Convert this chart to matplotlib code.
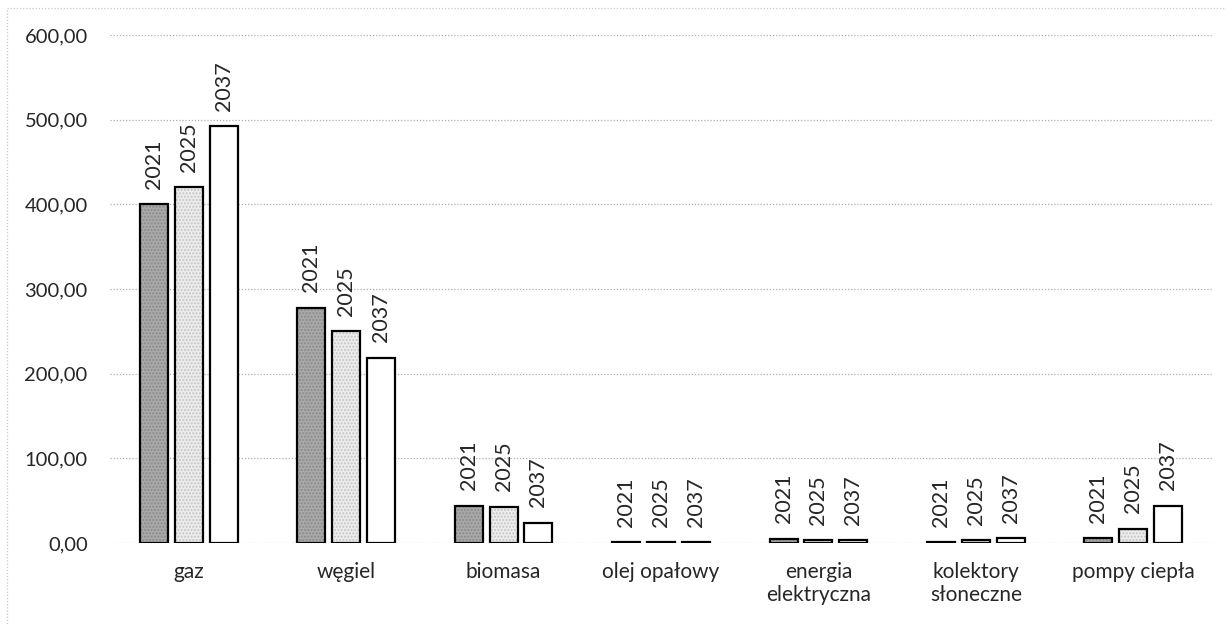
import matplotlib
matplotlib.use("Agg")
import matplotlib.pyplot as plt
from matplotlib.patches import Rectangle
import numpy as np

plt.rcParams['font.family'] = ['Lato', 'DejaVu Sans']

categories = ["gaz", "węgiel", "biomasa", "olej opałowy", "energia\nelektryczna",
              "kolektory\nsłoneczne", "pompy ciepła"]
series_names = ["2021", "2025", "2037"]
v2021 = [400, 278, 44, 1, 5, 1, 6]
v2025 = [420, 250, 43, 1, 3, 3, 17]
v2037 = [492, 219, 24, 1, 3, 6, 44]
yticks = [0, 100, 200, 300, 400, 500, 600]

series = [v2021, v2025, v2037]
faces = ["#a9a9a9", "#ededed", "#ffffff"]
dots = ["#8a8a8a", "#c4c4c4", None]

fig = plt.figure(figsize=(12.26, 6.25), dpi=100)
ax = fig.add_axes([0.0897, 0.1312, 0.8989, 0.8128])

x = np.arange(len(categories))
step = 0.2215
width = 0.178
for j, vals in enumerate(series):
    pos = x + (j - 1) * step
    if dots[j] is not None:
        ax.bar(pos, vals, width=width, color=faces[j], edgecolor=dots[j],
               hatch='.....', linewidth=0, zorder=2)
    else:
        ax.bar(pos, vals, width=width, color=faces[j], linewidth=0, zorder=2)
    ax.bar(pos, vals, width=width, facecolor='none', edgecolor='black',
           linewidth=1.6, zorder=3)
    for xp, v in zip(pos, vals):
        ax.annotate(series_names[j], (xp, v), xytext=(0, 11),
                    textcoords='offset points', rotation=90,
                    ha='center', va='bottom', fontsize=15.5, color='#262626')

ax.set_xlim(-0.5, len(categories) - 0.5)
ax.set_ylim(0, 600)
ax.set_yticks(yticks)
ax.set_yticklabels([f"{t:.2f}".replace('.', ',') for t in yticks])
ax.set_xticks(x)
ax.set_xticklabels(categories, fontsize=15, linespacing=1.15)
ax.tick_params(axis='both', length=0, colors='#262626')
ax.tick_params(axis='y', pad=16, labelsize=14.5)
ax.tick_params(axis='x', pad=14)
ax.grid(axis='y', linestyle=(0, (1, 1.5)), color='#b0b0b0', linewidth=0.9, zorder=0)
for s in ax.spines.values():
    s.set_visible(False)

# outer chart border (dotted, faint)
fig.patches.append(Rectangle((7 / 1226, -0.05), 1.1, 1 - 8 / 625 + 0.05,
                             transform=fig.transFigure, fill=False,
                             edgecolor='#c8c8c8', linestyle=(0, (1, 1.5)),
                             linewidth=0.9))

fig.savefig("out.png", dpi=100, facecolor='white')
